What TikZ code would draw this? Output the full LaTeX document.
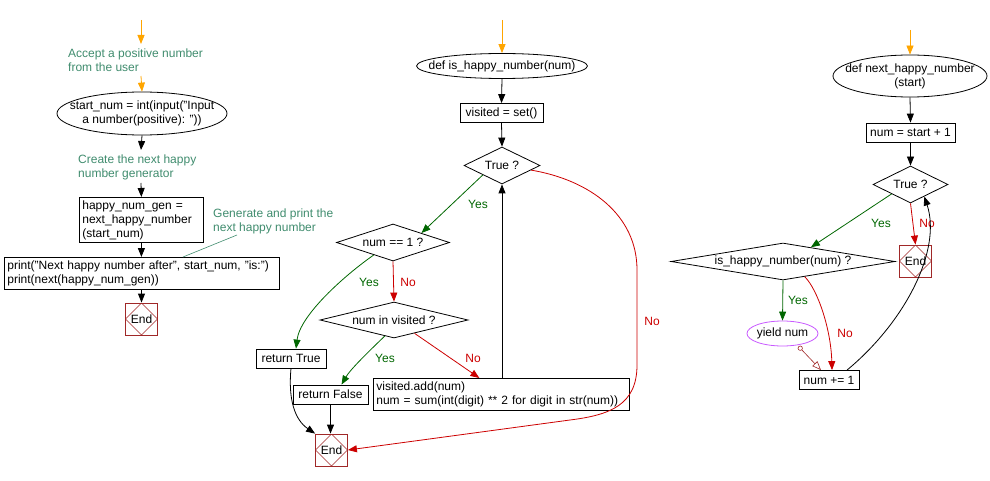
\documentclass[tikz,border=0pt]{standalone}
\usepackage{fontspec}
\setmainfont{Liberation Sans}
\usetikzlibrary{positioning, shapes.geometric, arrows.meta}
\definecolor{notecol}{RGB}{64,140,110}
\definecolor{yescol}{RGB}{0,102,0}
\definecolor{nocol}{RGB}{204,0,0}
\definecolor{endcol}{RGB}{160,40,40}
\definecolor{startcol}{RGB}{255,165,0}
\definecolor{yieldcol}{RGB}{200,90,255}
\tikzset{
	proc/.style={rectangle, draw=black, line width=0.8pt, inner sep=3pt, align=center},
	proctext/.style={proc, align=left, anchor=north west},
	decide/.style={diamond, draw=black, line width=0.8pt, inner sep=0pt, aspect=2},
	term/.style={ellipse, draw=black, line width=0.8pt, align=center, inner xsep=-30pt, inner ysep=-10pt},
	endbox/.style={rectangle, draw=endcol, line width=0.8pt, minimum size=32pt, inner sep=0pt,
		path picture={\draw[endcol, line width=0.6pt] (path picture bounding box.north) -- (path picture bounding box.east) -- (path picture bounding box.south) -- (path picture bounding box.west) -- cycle;}},
	note/.style={text=notecol, align=left, inner sep=0pt, anchor=north west},
	flow/.style={draw=black, line width=0.8pt, -{Triangle[length=9pt,width=7pt]}},
	yesflow/.style={flow, draw=yescol},
	noflow/.style={flow, draw=nocol},
	startflow/.style={flow, draw=startcol},
	yeslab/.style={text=yescol},
	nolab/.style={text=nocol},
	notelink/.style={draw=notecol, line width=0.6pt},
	yieldlink/.style={draw=endcol, line width=0.6pt, {Circle[open,length=5pt]}-{Triangle[open,length=9pt,width=7pt]}}
}
\begin{document}
\begin{tikzpicture}[x=1pt, y=-1pt, font=\fontsize{12}{14}\selectfont]
	\useasboundingbox (0,0) rectangle (990,481);
	% main program
	\coordinate (ls1) at (141,20);
	\coordinate (ls2) at (141,44);
	\coordinate (ls3) at (141,76);
	\coordinate (la1) at (141,150);
	\coordinate (la2) at (141,183);
	\node [note] (c1) at (68,49) {Accept a positive number\\from the user};
	\node [term, minimum width=170pt, minimum height=43pt] (st) at (142,113.5) {start\_num = int(input("Input\\a number(positive): "))};
	\node [note] (c2) at (78,155) {Create the next happy\\number generator};
	\node [proctext, text width=118pt, minimum height=45pt] (gen) at (79,197) {happy\_num\_gen =\\next\_happy\_number\\(start\_num)};
	\node [note] (c3) at (213,209) {Generate and print the\\next happy number};
	\node [proctext, text width=269pt, minimum height=32pt] (pr) at (4,257) {print("Next happy number after", start\_num, "is:")\\print(next(happy\_num\_gen))};
	\node [endbox] (e1) at (141.5,319) {End};
	\coordinate (lk1) at (237,235);
	\coordinate (lk2) at (183,257);
	
	\draw [startflow] (ls1) -- (ls2);
	\draw [startflow] (ls3) -- (st.north);
	\draw [flow] (st.south) -- (la1);
	\draw [flow] (la2) -- (gen.north);
	\draw [flow] (gen.south) -- (pr.north -| gen.south);
	\draw [flow] (pr.south -| e1.north) -- (e1.north);
	\draw [notelink] (lk1) -- (lk2);
	
	% is_happy_number
	\coordinate (ms) at (502,20);
	\coordinate (nr1) at (637,270);
	\coordinate (nr2) at (637,365);
	\coordinate (nr3) at (570,420);
	\node [term, minimum width=171pt, minimum height=25pt] (fn) at (502,66) {def is\_happy\_number(num)};
	\node [proc, minimum width=83pt, minimum height=19pt] (vis) at (501.5,113) {visited = set()};
	\node [decide, minimum width=76pt, minimum height=37pt] (t1) at (502,165.5) {True ?};
	\node [decide, aspect=3, minimum width=113pt, minimum height=37pt] (n1) at (393,242.5) {num == 1 ?};
	\node [decide, aspect=4, minimum width=148pt, minimum height=36pt] (iv) at (394,320) {num in visited ?};
	\node [proc, minimum width=70pt, minimum height=19pt] (rt) at (291,358.5) {return True};
	\node [proc, minimum width=75pt, minimum height=19pt] (rf) at (330.5,394.5) {return False};
	\node [proctext, text width=250pt, minimum height=32pt] (add) at (373,378) {visited.add(num)\\num = sum(int(digit) ** 2 for digit in str(num))};
	\node [endbox] (e2) at (331.5,450) {End};
	\node [yeslab] (y1) at (478,204) {Yes};
	\node [yeslab] (y2) at (369,282) {Yes};
	\node [nolab] (n2) at (408,282) {No};
	\node [yeslab] (y3) at (385,358) {Yes};
	\node [nolab] (n3) at (473,358) {No};
	\node [nolab] (n4) at (652,321) {No};
	
	\draw [startflow] (ms) -- (fn.north);
	\draw [flow] (fn.south) -- (vis.north);
	\draw [flow] (vis.south) -- (t1.north);
	\draw [yesflow] (t1.south west) -- (n1.north east);
	\draw [yesflow] (n1.-147) .. controls (345,275) and (300,315) .. ([xshift=5pt]rt.north);
	\draw [noflow] (n1.south) -- (iv.north);
	\draw [yesflow] (iv.-120) .. controls (365,355) and (350,370) .. ([xshift=11pt]rf.north);
	\draw [noflow] (iv.-33) -- ([xshift=-22pt]add.north);
	\draw [flow] (add.north -| t1.south) -- (t1.south);
	\draw [noflow] (t1.-9) .. controls (590,180) and (637,215) .. (nr1) -- (nr2) .. controls (637,405) and (610,415) .. (nr3) -- (e2.east);
	\draw [flow] (rt.south) .. controls (288,400) and (295,420) .. (e2.north west);
	\draw [flow] (rf.south) -- (rf.south |- e2.north);
	
	% next_happy_number
	\coordinate (rs) at (910,30);
	\node [term, minimum width=154pt, minimum height=42pt] (nh) at (910,76) {def next\_happy\_number\\(start)};
	\node [proc, minimum width=89pt, minimum height=19pt] (ns) at (910.5,132.5) {num = start + 1};
	\node [decide, minimum width=75pt, minimum height=37pt] (t2) at (910.5,184.5) {True ?};
	\node [decide, aspect=6, minimum width=224pt, minimum height=37pt] (ih) at (783,261.5) {is\_happy\_number(num) ?};
	\node [endbox] (e3) at (915.5,261) {End};
	\node [term, draw=yieldcol, minimum width=71pt, minimum height=25pt] (yn) at (782.5,333.5) {yield num};
	\node [proc, minimum width=60pt, minimum height=19pt] (inc) at (829,380) {num += 1};
	\node [yeslab] (y4) at (881,223) {Yes};
	\node [nolab] (n5) at (927,223) {No};
	\node [yeslab] (y5) at (798,300) {Yes};
	\node [nolab] (n6) at (845,333) {No};
	
	\draw [startflow] (rs) -- (nh.north);
	\draw [flow] (nh.south) -- (ns.north);
	\draw [flow] (ns.south) -- (t2.north);
	\draw [yesflow] (t2.south west) -- (ih.27);
	\draw [noflow] (t2.south) -- (e3.north);
	\draw [yesflow] (ih.south) -- (yn.north);
	\draw [noflow] (ih.-35) .. controls (818,290) and (831,330) .. ([xshift=3pt]inc.north);
	\draw [yieldlink] ([xshift=16pt]yn.south) -- ([xshift=-8pt]inc.north);
	\draw [flow] ([xshift=18pt]inc.north) .. controls (905,322) and (942,250) .. (t2.-41);
\end{tikzpicture}
\end{document}
